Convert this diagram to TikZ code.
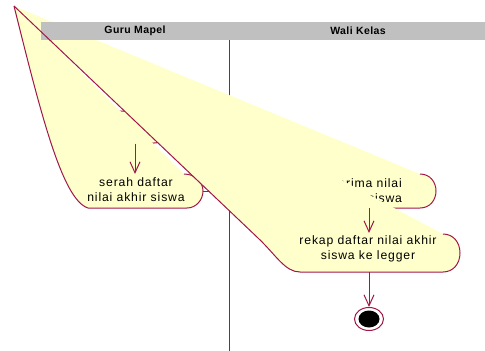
\documentclass[tikz,border=0pt]{standalone}
\usepackage{fontspec}
\setmainfont{Liberation Sans}
\newfontfamily\actfont[LetterSpace=7]{Liberation Sans}
\newfontfamily\lanefont[LetterSpace=4]{Liberation Sans}
\usepackage{tikz}
\usetikzlibrary{arrows.meta,shapes.geometric}
\definecolor{umlred}{RGB}{160,24,72}
\definecolor{umlfill}{RGB}{255,255,204}
\definecolor{umlgray}{RGB}{192,192,192}
\tikzset{actline/.style={draw=umlred,line width=1pt},
  flowarrow/.style={draw=umlred,line width=1pt,-{Straight Barb[length=11pt,width=10pt]}},
  acttext/.style={align=center,inner sep=0pt,font={\actfont\fontsize{12.2pt}{15pt}\selectfont}},
  lanetext/.style={inner sep=0pt,font={\lanefont\bfseries\fontsize{10.5pt}{12pt}\selectfont}}}

\begin{document}
\begin{tikzpicture}[x=1pt,y=-1pt]
%\draw [help lines,step=20] (0,0) grid (485,351);
\useasboundingbox (0,0) rectangle (485,351);
\coordinate (apex) at (14,6);
\draw [actline] (229,40) -- (229,351);
% Guru Mapel
\node [draw=umlred,fill=umlfill,line width=1pt,rounded corners=16pt,minimum width=70pt,minimum height=32pt] (input) at (135,127) {};
\coordinate (sr-n) at (135,174); \coordinate (sr-e) at (203,191);
\fill [umlfill] (apex) -- (184,174) .. controls (195,174) and (203,182) .. (203,191) .. controls (203,200) and (196,208) .. (187,208) -- (88,208) .. controls (62,200) and (40,110) .. (apex) -- cycle;
\draw [actline] (184,174) .. controls (195,174) and (203,182) .. (203,191) .. controls (203,200) and (196,208) .. (187,208) -- (88,208) .. controls (62,200) and (40,110) .. (apex);
\node [acttext] (serah) at (136,189.5) {serah daftar\\nilai akhir siswa};
\draw [flowarrow] (input) -- (sr-n);
% Wali Kelas
\coordinate (tr-w) at (330,191); \coordinate (tr-s) at (369,208);
\draw [flowarrow] (sr-e) -- (tr-w);
\fill [umlfill] (apex) -- (420,174) .. controls (430,174) and (436,182) .. (436,191) .. controls (436,200) and (430,208) .. (420,208) -- (330,208) -- cycle;
\draw [actline] (420,174) .. controls (430,174) and (436,182) .. (436,191) .. controls (436,200) and (430,208) .. (420,208) -- (330,208);
\node [acttext] (terima) at (368,190.5) {terima nilai\\akhir siswa};
\coordinate (rk-n) at (369,233); \coordinate (rk-s) at (369,272);
\fill [umlfill] (apex) -- (443,234) .. controls (453,234) and (460,242) .. (460,253) .. controls (460,264) and (453,272) .. (443,272) -- (300,272) .. controls (285,272) and (276,255) .. (258,238) -- cycle;
\draw [actline] (443,234) .. controls (453,234) and (460,242) .. (460,253) .. controls (460,264) and (453,272) .. (443,272) -- (300,272) .. controls (285,272) and (276,255) .. (258,238) -- (apex);
\node [acttext] (rekap) at (368,248.5) {rekap daftar nilai akhir\\siswa ke legger};
\draw [flowarrow] (tr-s) -- (rk-n);
\node [ellipse,draw=umlred,line width=1pt,minimum width=29pt,minimum height=23pt,inner sep=0pt] (final) at (369,319) {};
\fill (final.center) ellipse [x radius=10.5pt,y radius=8.5pt];
\draw [flowarrow] (rk-s) -- (final);
% lanes
\fill [umlgray] (41,22) rectangle (485,40);
\node [lanetext] (guru) at (135,31) {Guru Mapel}; \node [lanetext] (wali) at (358,31) {Wali Kelas};
\begin{scope} \clip (41,22) rectangle (485,40); \draw [actline] (apex) -- (258,238); \end{scope}
\end{tikzpicture}
\end{document}
